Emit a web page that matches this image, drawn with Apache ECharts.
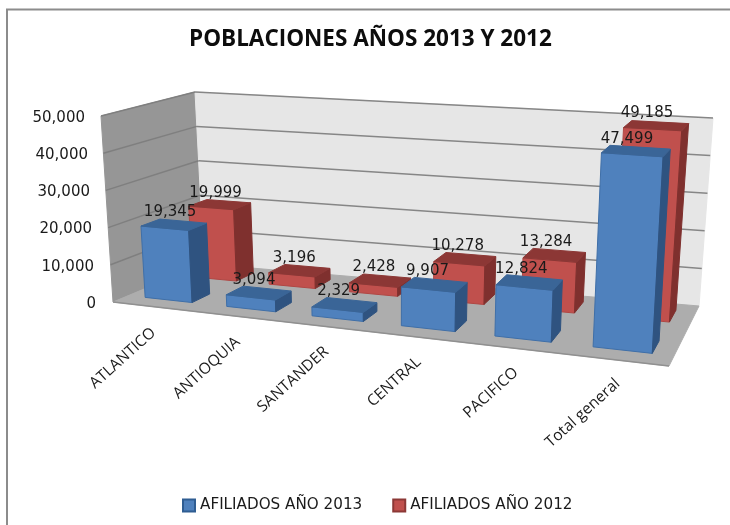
<!DOCTYPE html>
<html>
<head>
<meta charset="utf-8">
<style>html,body{margin:0;padding:0;background:#fff}#main{width:730px;height:525px}</style>
<script src="https://cdn.jsdelivr.net/npm/echarts@6/dist/echarts.min.js"></script>
</head>
<body>
<div id="main"></div>
<script>
var categories = ['ATLANTICO', 'ANTIOQUIA', 'SANTANDER', 'CENTRAL', 'PACIFICO', 'Total general']
var afiliados2013 = [19345, 3094, 2329, 9907, 12824, 47499]
var afiliados2012 = [19999, 3196, 2428, 10278, 13284, 49185]
var yTicks = [10000, 20000, 30000, 40000, 50000]

// the hidden grid gives u/v, these corners put the unit box into the picture
var gridBox = { left: 113, top: 118, width: 556, height: 186 }
var box = {
  flb: [113, 302], flt: [101, 116], frb: [669, 366], frt: [681, 154],
  blb: [204, 264], blt: [195, 92], brb: [699, 306], brt: [713, 118]
}
var perspective = 1.15

function mix(a, b, t) {
  return [a[0] + (b[0] - a[0]) * t, a[1] + (b[1] - a[1]) * t]
}
function warp(u, d, v) {
  var t = u / (perspective - (perspective - 1) * u)
  var fb = mix(box.flb, box.frb, t)
  var ft = mix(box.flt, box.frt, t)
  var bb = mix(box.blb, box.brb, t)
  var bt = mix(box.blt, box.brt, t)
  return mix(mix(fb, ft, v), mix(bb, bt, v), d)
}
// cat + f inside the band, d = depth 0..1, val = data value
function project(api, cat, f, d, val) {
  var p = api.coord([cat, val])
  var bw = api.size([1, 0])[0]
  var u = (p[0] - bw / 2 + f * bw - gridBox.left) / gridBox.width
  var v = (gridBox.top + gridBox.height - p[1]) / gridBox.height
  return warp(u, d, v)
}
function poly(points, fill, stroke) {
  return {
    type: 'polygon',
    shape: { points: points },
    style: { fill: fill, stroke: stroke || fill, lineWidth: 1 }
  }
}
function line(a, b, color) {
  return {
    type: 'line',
    shape: { x1: a[0], y1: a[1], x2: b[0], y2: b[1] },
    style: { stroke: color, lineWidth: 1.5 }
  }
}

function renderScene(params, api) {
  var last = categories.length - 1
  var c = [
    project(api, 0, 0, 0, 0), project(api, 0, 0, 0, 50000),
    project(api, 0, 0, 1, 0), project(api, 0, 0, 1, 50000),
    project(api, last, 1, 1, 0), project(api, last, 1, 1, 50000),
    project(api, last, 1, 0, 0)
  ]
  var kids = [
    poly([c[0], c[1], c[3], c[2]], '#969696'),
    poly([c[2], c[3], c[5], c[4]], '#e6e6e6'),
    poly([c[0], c[2], c[4], c[6]], '#adadad')
  ]
  yTicks.forEach(function (t) {
    var a = project(api, 0, 0, 0, t)
    var b = project(api, 0, 0, 1, t)
    var r = project(api, last, 1, 1, t)
    kids.push(line(a, b, '#7f7f7f'))
    kids.push(line(b, r, '#868686'))
  })
  kids.push(line(c[0], c[6], '#909090'))
  categories.forEach(function (name, i) {
    var p = project(api, i, 1, 0.18, 0)
    kids.push({
      type: 'text',
      x: p[0] - 56.6,
      y: p[1] + 26.5,
      rotation: 42 * Math.PI / 180,
      style: {
        text: name,
        fill: '#1a1a1a',
        font: '15.5px "Open Sans"',
        align: 'right',
        verticalAlign: 'middle'
      }
    })
  })
  return { type: 'group', children: kids }
}

function barRenderer(d0, d1, colors) {
  return function (params, api) {
    var i = api.value(0)
    var val = api.value(1)
    var f0 = 0.21
    var f1 = 0.79
    var a = project(api, i, f0, d0, 0)
    var b = project(api, i, f1, d0, 0)
    var e = project(api, i, f1, d1, 0)
    var at = project(api, i, f0, d0, val)
    var bt = project(api, i, f1, d0, val)
    var et = project(api, i, f1, d1, val)
    var ht = project(api, i, f0, d1, val)
    var mid = project(api, i, 0.5, d1, val)
    return {
      type: 'group',
      children: [
        poly([a, b, bt, at], colors.front, colors.edge),
        poly([b, e, et, bt], colors.side),
        poly([at, bt, et, ht], colors.top),
        {
          type: 'text',
          z2: 50,
          x: mid[0] - 13,
          y: mid[1] - 1,
          style: {
            text: echarts.format.addCommas(val),
            fill: '#1a1a1a',
            font: '15px "DejaVu Sans"',
            align: 'center',
            verticalAlign: 'bottom'
          }
        }
      ]
    }
  }
}

var richTicks = { l0: { padding: [0, 0, 0, 0] }, l1: { padding: [0, 2, 0, 0] }, l2: { padding: [0, 4, 0, 0] }, l3: { padding: [0, 6, 0, 0] }, l4: { padding: [0, 8, 0, 0] }, l5: { padding: [0, 11, 0, 0] } }

var chart = echarts.init(document.getElementById('main'), null, { renderer: 'canvas' })
chart.setOption({
  animation: false,
  backgroundColor: '#fff',
  title: {
    text: 'POBLACIONES AÑOS 2013 Y 2012',
    left: 184,
    top: 23,
    textStyle: { fontFamily: 'Open Sans', fontWeight: 'bold', fontSize: 22.5, color: '#0d0d0d' }
  },
  graphic: [{
    type: 'rect',
    z: -1,
    shape: { x: 7, y: 9.5, width: 800, height: 600 },
    style: { fill: '#fff', stroke: '#8c8c8c', lineWidth: 2 }
  }],
  legend: {
    data: ['AFILIADOS AÑO 2013', 'AFILIADOS AÑO 2012'],
    left: 182,
    top: 498,
    padding: 0,
    itemWidth: 12,
    itemHeight: 12,
    itemGap: 30,
    icon: 'rect',
    textStyle: { fontFamily: 'DejaVu Sans', fontSize: 15.2, color: '#1a1a1a' }
  },
  grid: gridBox,
  xAxis: {
    type: 'category',
    data: categories,
    axisLine: { show: false },
    axisTick: { show: false },
    axisLabel: { show: false }
  },
  yAxis: {
    type: 'value',
    min: 0,
    max: 50000,
    interval: 10000,
    axisLine: { show: false },
    axisTick: { show: false },
    splitLine: { show: false },
    axisLabel: {
      margin: 17,
      color: '#1a1a1a',
      fontFamily: 'DejaVu Sans',
      fontSize: 15,
      rich: richTicks,
      formatter: function (v) {
        return '{l' + v / 10000 + '|' + echarts.format.addCommas(v) + '}'
      }
    }
  },
  series: [
    {
      type: 'custom',
      silent: true,
      renderItem: renderScene,
      data: [[0, 0]],
      encode: { x: 0, y: 1 },
      clip: false
    },
    {
      name: 'AFILIADOS AÑO 2012',
      type: 'custom',
      silent: true,
      itemStyle: { color: '#c0504d', borderColor: '#8c3836', borderWidth: 1 },
      renderItem: barRenderer(0.7, 0.9, { front: '#c0504d', edge: '#b04744', side: '#7f302e', top: '#8c3735' }),
      data: afiliados2012.map(function (v, i) { return [i, v] }),
      encode: { x: 0, y: 1 },
      clip: false
    },
    {
      name: 'AFILIADOS AÑO 2013',
      type: 'custom',
      silent: true,
      itemStyle: { color: '#4f81bd', borderColor: '#2f5d92', borderWidth: 1 },
      renderItem: barRenderer(0.17, 0.38, { front: '#4f81bd', edge: '#3f6fa8', side: '#2f5380', top: '#3a6597' }),
      data: afiliados2013.map(function (v, i) { return [i, v] }),
      encode: { x: 0, y: 1 },
      clip: false
    }
  ]
})
</script>
</body>
</html>
